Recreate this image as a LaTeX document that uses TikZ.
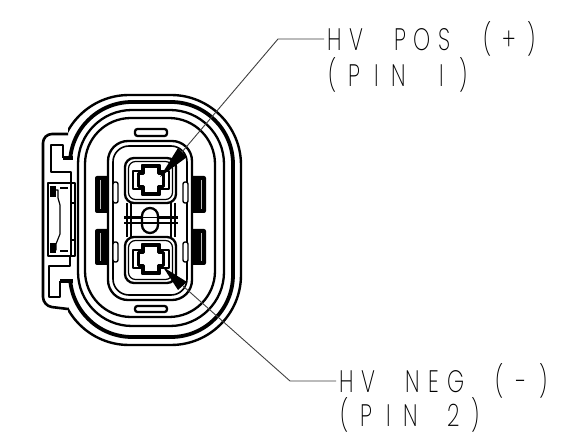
\documentclass[tikz,border=0pt]{standalone}
\usepackage{fontspec}
\newfontfamily\thinf[FakeStretch=0.7]{Poppins ExtraLight}
\newcommand\ch[1]{\makebox[21.8pt][c]{#1}}
\newcommand\crossat[2]{%
  \begin{scope}[shift={(#1,#2)}]
    \draw[ln,fill=white] (-9,-15)--(9,-15)--(9,-9)--(18,-9)--(18,9)--(9,9)--(9,15)--(-9,15)--(-9,9)--(-18,9)--(-18,-9)--(-9,-9)--cycle;
    \draw[line width=3pt,fill=white] (-7.5,-13.5)--(7.5,-13.5)--(7.5,-6.5)--(12.5,-6.5)--(12.5,6.5)--(7.5,6.5)--(7.5,13.5)--(-7.5,13.5)--(-7.5,6.5)--(-12.5,6.5)--(-12.5,-6.5)--(-7.5,-6.5)--cycle;
  \end{scope}}
\tikzset{
  ln/.style={line width=2.3pt,draw=black},
  thk/.style={line width=3.8pt,draw=black},
  leader/.style={line width=0.9pt,draw=black!75},
  lab/.style={anchor=west,inner sep=0pt,font=\thinf\fontsize{31}{31}\selectfont},
  slit/.style={line width=0.5pt,draw=white!75!black},
}
\begin{document}
\begin{tikzpicture}[x=1pt,y=-1pt,line join=round]
\useasboundingbox (0,0) rectangle (563,446);
\fill[white] (0,0) rectangle (563,446);
% rings
\begin{scope}
  \clip (68,0) rectangle (563,446);
  \draw[line width=2.4pt,rounded corners=70pt] (59,95) rectangle (241,345);
\end{scope}
\begin{scope}
  \clip (0,0) rectangle (300,158) (73,158) rectangle (300,281) (0,281) rectangle (300,446);
  \draw[thk,rounded corners=62pt] (70,102) rectangle (233,337);
\end{scope}
\draw[ln,rounded corners=54pt] (78,110) rectangle (224,326);
\draw[ln,rounded corners=46pt] (85,118) rectangle (215,317);
% black side tabs
\foreach \ya/\yb in {176/213,229/265}{
  \fill[rounded corners=2pt] (95,\ya) rectangle (110,\yb);
  \fill[rounded corners=2pt] (191,\ya) rectangle (206,\yb);
  \draw[slit] (100,\ya+4) -- (100,\yb-4);
  \draw[slit] (201,\ya+4) -- (201,\yb-4);
}
% housing
\draw[ln,fill=white,rounded corners=20pt] (108,141) rectangle (192,300);
\draw[line width=1.6pt,rounded corners=16pt] (113,146) rectangle (187,295);
% small tabs
\foreach \ya/\yb in {182/203,242/262}{
  \draw[line width=1.4pt,fill=white,rounded corners=2pt] (113,\ya) rectangle (118,\yb);
  \draw[line width=1.4pt,fill=white,rounded corners=2pt] (183,\ya) rectangle (188,\yb);
}
% top and bottom slots
\draw[ln,rounded corners=2.5pt] (135,129) rectangle (167,136);
\draw[ln,rounded corners=2.5pt] (135,306) rectangle (167,312);
% middle web
\draw[line width=2.6pt] (127,203)--(127,237) (175,203)--(175,237);
\draw[line width=1.3pt] (131,203)--(131,237) (171,203)--(171,237);
\draw[ln,fill=white,rounded corners=8pt] (142,208) rectangle (158,233);
\draw[line width=2.6pt] (124,217.5)--(143,217.5) (157,217.5)--(178,217.5) (124,223)--(143,223) (157,223)--(178,223);
\draw[line width=1.5pt] (143,217.5)--(157,217.5) (143,223)--(157,223);
% pin cavities
\foreach \ya/\yb in {158/203,237/283}{
  \draw[ln,fill=white,rounded corners=9pt] (125,\ya) rectangle (176,\yb);
  \draw[line width=1.2pt,rounded corners=7pt] (128.5,\ya+3.5) rectangle (172.5,\yb-3.5);
}
\crossat{151}{180}
\crossat{151}{259}
% latch outer
\draw[line width=2.6pt,rounded corners=9pt] (68,134)--(43,134)--(43,306)--(68,309);
% latch hooks
\draw[ln] (63,158)--(63,145)--(51,145)--(51,172)--(71,172)--(71,183);
\draw[thk] (63,158)--(73,158);
\draw[ln] (60,281)--(60,297)--(49,297)--(49,266)--(70,266)--(70,256);
\draw[thk] (60,281)--(73,281);
% latch centre
\draw[ln] (48,183) rectangle (75,256);
\draw[line width=1.4pt] (71,183)--(71,256);
\draw[line width=1.8pt] (71,203)--(75,203) (71,240)--(75,240);
\draw[line width=1.2pt] (52,190)--(58,190)--(58,198)--(60,205)--(60,234)--(56,244)--(56,250)--(52,250);
\draw[line width=1.2pt] (60,188)--(68,188) (60,251)--(68,251);
\fill (50,186) rectangle (56,197);
\fill (50,243) rectangle (56,253);
% wedges
\fill (160,177)--(178,148)--(187,157)--cycle;
\fill (163,267)--(187,282)--(178,290)--cycle;
% labels
\node[lab] (pos1) at (324,39) {\ch{H}\ch{V}\ch{ }\ch{P}\ch{O}\ch{S}\ch{ }\ch{(}\ch{+}\ch{)}};
\node[lab] (pos2) at (322,75) {\ch{(}\ch{P}\ch{I}\ch{N}\ch{ }\ch{I}\ch{)}};
\node[lab] (neg1) at (336,381) {\ch{H}\ch{V}\ch{ }\ch{N}\ch{E}\ch{G}\ch{ }\ch{(}\ch{-}\ch{)}};
\node[lab] (neg2) at (334,415) {\ch{(}\ch{P}\ch{I}\ch{N}\ch{ }\ch{2}\ch{)}};
% leaders
\coordinate (wa) at (182,152);
\coordinate (ea) at (278,39);
\coordinate (wb) at (183,286);
\coordinate (eb) at (290,381);
\draw[leader] (wa)--(ea)--(pos1.west);
\draw[leader] (wb)--(eb)--(neg1.west);
\end{tikzpicture}
\end{document}
